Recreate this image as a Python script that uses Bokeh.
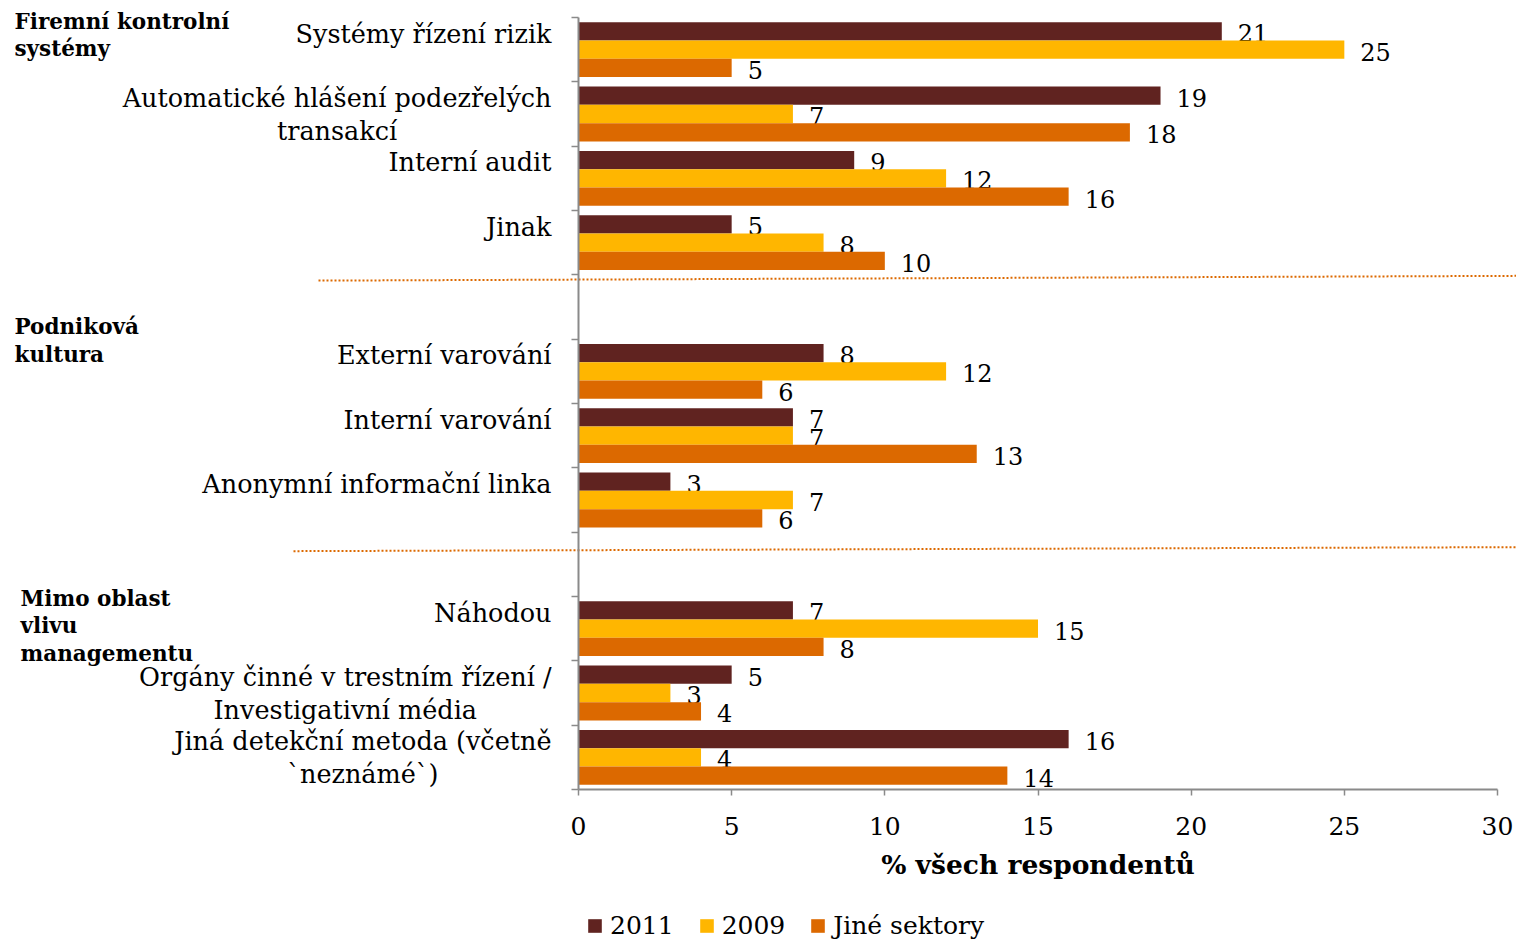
from bokeh.plotting import figure
from bokeh.models import (Range1d, LinearAxis, FixedTicker, ColumnDataSource, Legend,
                          LegendItem, CustomJSTickFormatter)
from bokeh.core.properties import value
from bokeh.embed import file_html
from bokeh.resources import INLINE

# ---------------- data ----------------
categories = [
    "Systémy řízení rizik",
    "Automatické hlášení podezřelých\ntransakcí",
    "Interní audit",
    "Jinak",
    "Externí varování",
    "Interní varování",
    "Anonymní informační linka",
    "Náhodou",
    "Orgány činné v trestním řízení /\nInvestigativní média",
    "Jiná detekční metoda (včetně\n`neznámé`)",
]
category_group = [0, 0, 0, 0, 1, 1, 1, 2, 2, 2]
group_labels = ["Firemní kontrolní\nsystémy", "Podniková\nkultura", "Mimo oblast\nvlivu\nmanagementu"]
series_names = ["2011", "2009", "Jiné sektory"]
values_2011 = [21, 19, 9, 5, 8, 7, 3, 7, 5, 16]
values_2009 = [25, 7, 12, 8, 12, 7, 7, 15, 3, 4]
values_other = [5, 18, 16, 10, 6, 13, 6, 8, 4, 14]
x_ticks = [0, 5, 10, 15, 20, 25, 30]
x_title = "% všech respondentů"

# ---------------- style ----------------
COLORS = ["#602320", "#FFB600", "#DC6900"]
FONT = "DejaVu Serif"
AXIS_COLOR = "#8a8a8a"
W, H = 1516, 946
X0 = 578.0            # px of x=0 from the frame's left edge
UNIT = 919.0 / 30.0   # px per percent
SLOT = 772.0 / 12.0   # px per category slot
TOP = 17.0            # px above first slot boundary
BAR_H = 0.2845

x_range = Range1d(-X0 / UNIT, (W - X0) / UNIT)
y_top = 0.5 - TOP / SLOT
y_range = Range1d(y_top + H / SLOT, y_top)

slot_y = [i + g + 1 for i, g in enumerate(category_group)]
n_slots = len(categories) + max(category_group)

p = figure(width=W, height=H, x_range=x_range, y_range=y_range,
           output_backend="svg", toolbar_location=None,
           x_axis_location=None, y_axis_location=None,
           min_border=0, min_border_left=0, min_border_right=0,
           min_border_top=0, min_border_bottom=0)
p.outline_line_color = None
p.grid.visible = False
p.background_fill_color = "white"

# ---------------- bars + value labels ----------------
renderers = []
for k, (vals, color) in enumerate(zip([values_2011, values_2009, values_other], COLORS)):
    ys = [s + (k - 1) * BAR_H for s in slot_y]
    src = ColumnDataSource(dict(y=ys, v=vals, t=[str(v) for v in vals]))
    r = p.hbar(y="y", left=0, right="v", height=BAR_H, source=src,
               fill_color=color, line_color=None)
    renderers.append(r)
    p.text(x="v", y="y", text="t", source=src, x_offset=16, y_offset=2,
           text_align="left", text_baseline="middle",
           text_font=value(FONT), text_font_size=value("24px"), text_color="#000000")

# ---------------- category labels ----------------
multi = ["\n" in c for c in categories]
csrc = ColumnDataSource(dict(x=[0] * len(categories), y=slot_y, text=categories,
                             yo=[0 if m else -16 for m in multi]))
p.text(x="x", y="y", text="text", source=csrc, x_offset=-27, y_offset="yo",
       anchor=value("center_right"), text_align="center", text_baseline="middle",
       text_font=value(FONT), text_font_size=value("25.5px"), text_line_height=1.1,
       text_color="#000000")

# ---------------- group labels ----------------
group_first = [slot_y[category_group.index(g)] for g in range(len(group_labels))]
gsrc = ColumnDataSource(dict(x=[x_range.start] * len(group_labels),
                             y=[f - 0.5 for f in group_first],
                             text=group_labels,
                             xo=[14, 14, 20], yo=[-9, -25, -11]))
p.text(x="x", y="y", text="text", source=gsrc, x_offset="xo", y_offset="yo",
       anchor=value("top_left"), text_align="left", text_baseline="top",
       text_font=value(FONT), text_font_size=value("21.5px"), text_font_style="bold",
       text_line_height=1.1, text_color="#000000")

# ---------------- dotted separators ----------------
gap_slots = [slot_y[category_group.index(g)] - 1 for g in range(1, len(group_labels))]
sep_x0 = [-260 / UNIT, -285 / UNIT]
sep_dy = [(0.09, 0.016), (0.295, 0.233)]
p.segment(x0=sep_x0, y0=[s - 0.5 + d[0] for s, d in zip(gap_slots, sep_dy)],
          x1=[x_range.end] * len(gap_slots), y1=[s - 0.5 + d[1] for s, d in zip(gap_slots, sep_dy)],
          line_color="#DC6900", line_width=2, line_dash="2 2")

# ---------------- axes ----------------
xaxis = LinearAxis(fixed_location=n_slots + 0.5, bounds=(x_ticks[0], x_ticks[-1]),
                   ticker=FixedTicker(ticks=x_ticks, minor_ticks=[]),
                   axis_label=x_title)
xaxis.axis_line_color = AXIS_COLOR
xaxis.axis_line_width = 2
xaxis.major_tick_line_color = AXIS_COLOR
xaxis.major_tick_line_width = 1.5
xaxis.major_tick_out = 6
xaxis.major_tick_in = 0
xaxis.minor_tick_line_color = None
xaxis.major_label_text_font = FONT
xaxis.major_label_text_font_size = "25px"
xaxis.major_label_text_color = "#000000"
xaxis.major_label_standoff = 21
xaxis.axis_label_text_font = FONT
xaxis.axis_label_text_font_size = "26.5px"
xaxis.axis_label_text_font_style = "bold"
xaxis.axis_label_text_color = "#000000"
xaxis.axis_label_standoff = 11
p.add_layout(xaxis, "below")

yaxis = LinearAxis(fixed_location=0, bounds=(0.5, n_slots + 0.5),
                   ticker=FixedTicker(ticks=[i + 0.5 for i in range(n_slots + 1)], minor_ticks=[]),
                   formatter=CustomJSTickFormatter(code="return ''"))
yaxis.axis_line_color = AXIS_COLOR
yaxis.axis_line_width = 2
yaxis.major_tick_line_color = AXIS_COLOR
yaxis.major_tick_line_width = 1.5
yaxis.major_tick_out = 7
yaxis.major_tick_in = 0
yaxis.minor_tick_line_color = None
yaxis.major_label_text_font_size = "0px"
p.add_layout(yaxis, "left")

# ---------------- legend ----------------
legend = Legend(items=[LegendItem(label=n, renderers=[r]) for n, r in zip(series_names, renderers)],
                orientation="horizontal", location=(586, 6),
                glyph_width=17, glyph_height=17, label_standoff=7, spacing=24,
                padding=0, margin=0, border_line_color=None, background_fill_alpha=0,
                label_text_font=FONT, label_text_font_size="25px", label_text_color="#000000")
p.add_layout(legend)

open("out.html", "w").write(file_html(p, INLINE))
